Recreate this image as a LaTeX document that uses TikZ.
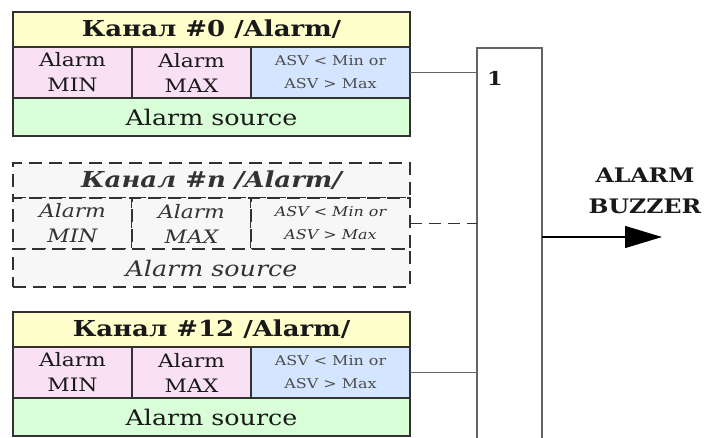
\documentclass[tikz,border=0pt]{standalone}
\usepackage{fontspec}
\setmainfont[FakeStretch=1.18]{DejaVu Serif}
\usetikzlibrary{positioning,arrows.meta}
\definecolor{hdrYellow}{RGB}{255,255,204}
\definecolor{limPink}{RGB}{249,224,245}
\definecolor{asvBlue}{RGB}{212,230,255}
\definecolor{srcGreen}{RGB}{216,255,216}
\definecolor{offGray}{RGB}{247,247,247}
\definecolor{lineGray}{RGB}{50,50,50}
\definecolor{gateGray}{RGB}{100,100,100}

\begin{document}
\begin{tikzpicture}[x=1pt,y=-1pt,
    cell/.style={draw=lineGray, line width=1.3pt, inner sep=0pt, outer sep=0pt, text=black!90},
    hdr/.style={cell, fill=hdrYellow, minimum width=397pt, minimum height=35pt,
      font=\fontsize{22}{24}\selectfont\bfseries},
    lim/.style={cell, fill=limPink, minimum width=119pt, minimum height=51pt,
      align=center, font=\fontsize{18.5}{25}\selectfont},
    asv/.style={cell, fill=asvBlue, minimum width=159pt, minimum height=51pt,
      align=center, text=black!70, font=\fontsize{13.5}{23}\selectfont},
    src/.style={cell, fill=srcGreen, minimum width=397pt, minimum height=38pt,
      font=\fontsize{21.5}{24}\selectfont},
    off/.style={line width=1.5pt, dash pattern=on 13pt off 7pt, fill=offGray, text=black!80},
    wire/.style={draw=gateGray, line width=1.8pt}]
  \useasboundingbox (0,0) rectangle (704,437);
  \clip (0,0) rectangle (704,437);

  % Channel 0
  \node[hdr, anchor=north west] (h0) at (13,12) {Канал \#0 /Alarm/};
  \node[lim, anchor=north west] (mn0) at (h0.south west) {Alarm\\MIN};
  \node[lim, right=0pt of mn0] (mx0) {Alarm\\MAX};
  \node[asv, right=0pt of mx0] (asv0) {ASV < Min or\\ASV > Max};
  \node[src, anchor=north west] (s0) at (mn0.south west) {Alarm source};

  % Channel n (dashed)
  \node[hdr, off, anchor=north west, font=\fontsize{22}{24}\selectfont\bfseries\itshape] (hn) at (13,163) {Канал \#n /Alarm/};
  \node[lim, off, anchor=north west, font=\fontsize{18.5}{25}\selectfont\itshape] (mnn) at (hn.south west) {Alarm\\MIN};
  \node[lim, off, right=0pt of mnn, font=\fontsize{18.5}{25}\selectfont\itshape] (mxn) {Alarm\\MAX};
  \node[asv, off, right=0pt of mxn, font=\fontsize{13.5}{23}\selectfont\itshape] (asvn) {ASV < Min or\\ASV > Max};
  \node[src, off, anchor=north west, font=\fontsize{21.5}{24}\selectfont\itshape] (sn) at (mnn.south west) {Alarm source};

  % Channel 12
  \node[hdr, anchor=north west] (h12) at (13,312) {Канал \#12 /Alarm/};
  \node[lim, anchor=north west] (mn12) at (h12.south west) {Alarm\\MIN};
  \node[lim, right=0pt of mn12] (mx12) {Alarm\\MAX};
  \node[asv, right=0pt of mx12] (asv12) {ASV < Min or\\ASV > Max};
  \node[src, anchor=north west] (s12) at (mn12.south west) {Alarm source};

  % OR gate
  \node[wire, line width=1.6pt, fill=white, anchor=north west, minimum width=65pt, minimum height=420pt,
    inner sep=0pt, outer sep=0pt] (gate) at (477,48) {};
  \node[font=\fontsize{19}{22}\selectfont\bfseries, text=black!90] (one) at ([xshift=18pt,yshift=-30pt]gate.north west) {1};

  % Inputs
  \draw[wire] (asv0.east) -- (asv0.east -| gate.west);
  \draw[wire, draw=lineGray, line width=1.4pt, dash pattern=on 12pt off 7pt] (asvn.east) -- (asvn.east -| gate.west);
  \draw[wire, line width=1.3pt] (asv12.east) -- (asv12.east -| gate.west);

  % Output
  \coordinate (buzz) at (662,237);
  \draw[line width=1.2pt, -{Triangle[length=37pt,width=22pt]}] (buzz -| gate.east) -- (buzz);
  \node[font=\fontsize{20}{31}\selectfont\bfseries, align=center, text=black!90] (lbl) at (645,191) {ALARM\\BUZZER};
\end{tikzpicture}
\end{document}
